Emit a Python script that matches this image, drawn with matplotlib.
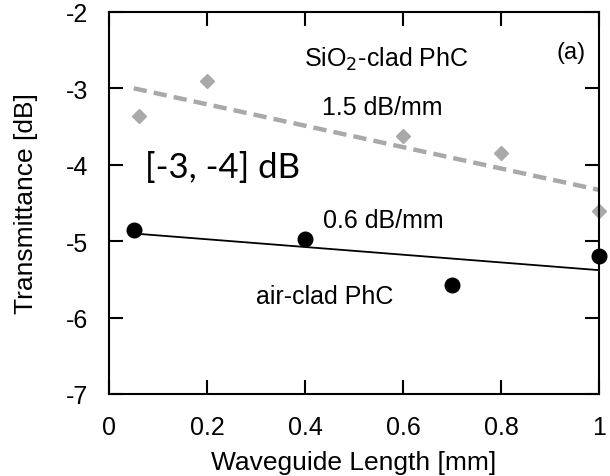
import matplotlib
matplotlib.use("Agg")
import matplotlib.pyplot as plt

# SiO2-clad PhC (gray diamonds) and air-clad PhC (black dots)
sio2_len = [0.06, 0.2, 0.6, 0.8, 1.0]
sio2_trans = [-3.36, -2.90, -3.62, -3.85, -4.61]
air_len = [0.05, 0.4, 0.7, 1.0]
air_trans = [-4.85, -4.97, -5.58, -5.19]

# fit lines (end points)
sio2_fit_x = [0.05, 1.0]
sio2_fit_y = [-3.0, -4.33]
air_fit_x = [0.05, 1.0]
air_fit_y = [-4.90, -5.38]

xticks = [0, 0.2, 0.4, 0.6, 0.8, 1]
xticklabels = ["0", "0.2", "0.4", "0.6", "0.8", "1"]
yticks = [-7, -6, -5, -4, -3, -2]
yticklabels = ["-7", "-6", "-5", "-4", "-3", "-2"]

plt.rcParams['font.family'] = ['Liberation Sans', 'DejaVu Sans']

fig = plt.figure(figsize=(6.1, 4.77), dpi=100)
ax = fig.add_axes([0.179, 0.172, 0.803, 0.801])

gray = '#a9a9a9'
ax.plot(sio2_fit_x, sio2_fit_y, color=gray, lw=3.2, dashes=(3.0, 1.6))
ax.plot(air_fit_x, air_fit_y, color='black', lw=1.3)
ax.plot(sio2_len, sio2_trans, 'D', color=gray, ms=7.5, mec=gray, clip_on=False)
ax.plot(air_len, air_trans, 'o', color='black', ms=10.5, clip_on=False)

ax.set_xlim(0, 1)
ax.set_ylim(-7, -2)
ax.set_xticks(xticks)
ax.set_xticklabels(xticklabels)
ax.set_yticks(yticks)
ax.set_yticklabels(yticklabels)
ax.tick_params(direction='in', length=10, width=1.5, top=True, right=True,
               labelsize=18, pad=15)
for s in ax.spines.values():
    s.set_linewidth(1.5)

ax.set_xlabel("Waveguide Length [mm]", fontsize=19, labelpad=8)
ax.set_ylabel("Transmittance [dB]", fontsize=19, labelpad=20)

ax.text(0.943, -2.52, "(a)", fontsize=17, ha='center', va='center')
ax.text(0.566, -2.61, r"SiO$_2$-clad PhC", fontsize=18, ha='center', va='center')
ax.text(0.557, -3.24, "1.5 dB/mm", fontsize=18, ha='center', va='center')
ax.text(0.232, -4.03, "[-3, -4] dB", fontsize=25, ha='center', va='center',
        family=['Lato', 'DejaVu Sans'])
ax.text(0.56, -4.72, "0.6 dB/mm", fontsize=18, ha='center', va='center')
ax.text(0.44, -5.72, "air-clad PhC", fontsize=18, ha='center', va='center')

plt.savefig("out.png", dpi=100)
